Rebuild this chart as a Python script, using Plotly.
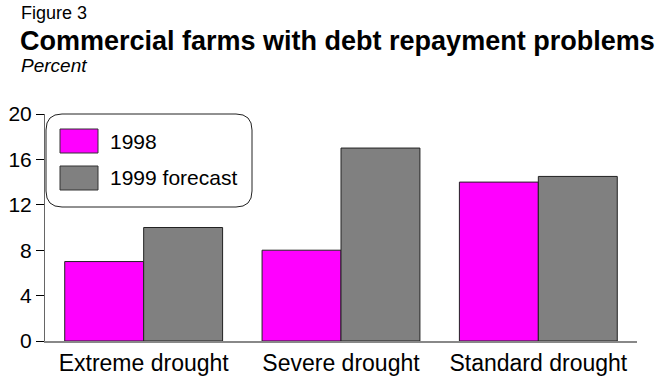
import plotly.graph_objects as go

categories = ["Extreme drought", "Severe drought", "Standard drought"]
series_1998 = [7, 8, 14]
series_1999 = [10, 17, 14.5]
series_names = ["1998", "1999 forecast"]
colors = ["#FF00FF", "#808080"]
y_ticks = [0, 4, 8, 12, 16, 20]

FONT = "Liberation Sans, Arial, Helvetica, sans-serif"

fig = go.Figure()
for name, vals, col in zip(series_names, [series_1998, series_1999], colors):
    fig.add_trace(go.Bar(
        x=categories, y=vals, name=name,
        marker=dict(color=col, line=dict(color="#222222", width=1)),
        showlegend=False,
    ))

W, H = 659, 378
L, R, T, B = 45, 22, 114, 37
pw, ph = W - L - R, H - T - B

def px(x):
    return (x - L) / pw

def py(y):
    return (H - B - y) / ph

# rounded legend box
x0, x1, y0, y1 = 46, 252, 114, 207
r = 16
rx, ry = r / pw, r / ph
X0, X1, Y0, Y1 = px(x0), px(x1), py(y1), py(y0)
path = (f"M {X0+rx},{Y1} L {X1-rx},{Y1} Q {X1},{Y1} {X1},{Y1-ry} "
        f"L {X1},{Y0+ry} Q {X1},{Y0} {X1-rx},{Y0} "
        f"L {X0+rx},{Y0} Q {X0},{Y0} {X0},{Y0+ry} "
        f"L {X0},{Y1-ry} Q {X0},{Y1} {X0+rx},{Y1} Z")
shapes = [dict(type="path", xref="paper", yref="paper", path=path,
               line=dict(color="#222222", width=1), fillcolor="white", layer="above")]
annotations = []
sw = [(129, 153), (166, 190)]
txt_y = [141.5, 177.5]
for (a, b), ty, name, col in zip(sw, txt_y, series_names, colors):
    shapes.append(dict(type="rect", xref="paper", yref="paper",
                       x0=px(60), x1=px(98), y0=py(b), y1=py(a),
                       fillcolor=col, line=dict(color="#333333", width=1), layer="above"))
    annotations.append(dict(xref="paper", yref="paper", x=px(108), y=py(ty),
                            text=name, showarrow=False, xanchor="left", yanchor="middle",
                            font=dict(size=21, color="black", family=FONT)))

# titles
annotations += [
    dict(xref="paper", yref="paper", x=px(19), y=py(13), text="Figure 3", showarrow=False,
         xanchor="left", yanchor="middle", font=dict(size=18, color="black", family=FONT)),
    dict(xref="paper", yref="paper", x=px(18), y=py(41),
         text="<b>Commercial farms with debt repayment problems</b>", showarrow=False,
         xanchor="left", yanchor="middle", font=dict(size=27, color="black", family=FONT)),
    dict(xref="paper", yref="paper", x=px(19), y=py(66), text="<i>Percent</i>", showarrow=False,
         xanchor="left", yanchor="middle", font=dict(size=19, color="black", family=FONT)),
]

fig.update_layout(
    width=W, height=H,
    margin=dict(l=L, r=R, t=T, b=B, pad=0),
    paper_bgcolor="white", plot_bgcolor="white",
    barmode="group", bargap=0.2, bargroupgap=0,
    font=dict(family=FONT, size=20, color="black"),
    shapes=shapes, annotations=annotations,
    xaxis=dict(showgrid=False, showline=True, linecolor="#888888", linewidth=2,
               ticks="", tickfont=dict(size=23), range=[-0.5, 2.5], fixedrange=True,
               automargin=False),
    yaxis=dict(range=[0, 20], tickvals=y_ticks, showgrid=False, zeroline=False,
               showline=True, linecolor="#666666", linewidth=1,
               ticks="outside", ticklen=8, tickcolor="black", tickwidth=1,
               tickfont=dict(size=21), automargin=False),
)

fig.write_html("out.html")
